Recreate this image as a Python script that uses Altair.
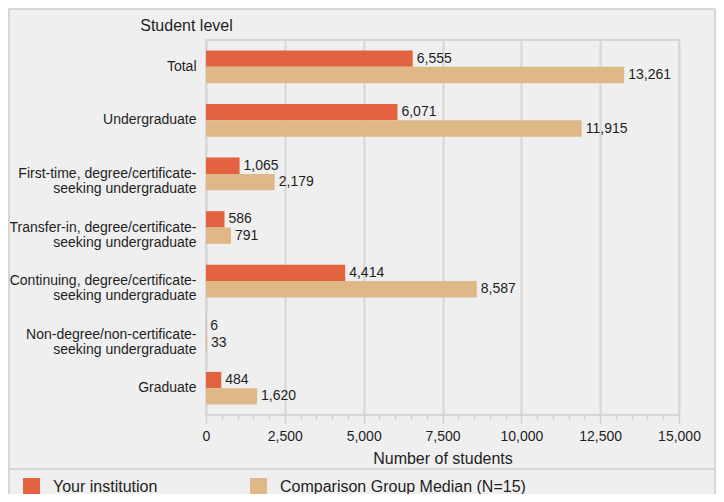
import altair as alt
import pandas as pd

categories = [
    "Total",
    "Undergraduate",
    "First-time, degree/certificate-|seeking undergraduate",
    "Transfer-in, degree/certificate-|seeking undergraduate",
    "Continuing, degree/certificate-|seeking undergraduate",
    "Non-degree/non-certificate-|seeking undergraduate",
    "Graduate",
]
series = ["Your institution", "Comparison Group Median (N=15)"]
your_institution = [6555, 6071, 1065, 586, 4414, 6, 484]
comparison_median = [13261, 11915, 2179, 791, 8587, 33, 1620]
colors = ["#e3623f", "#deb887"]
x_ticks = list(range(0, 15001, 500))

rows = []
for c, a, b in zip(categories, your_institution, comparison_median):
    rows.append({"level": c, "series": series[0], "value": a})
    rows.append({"level": c, "series": series[1], "value": b})
df = pd.DataFrame(rows)

FONT = "Liberation Sans"
TXT = "#1e1e1e"
GRID = "#d6d6d6"

y_enc = alt.Y(
    "level:N",
    sort=categories,
    scale=alt.Scale(paddingInner=0.39, paddingOuter=0.195),
    axis=alt.Axis(
        title="Student level",
        titleAngle=0,
        titleAlign="center",
        titleBaseline="middle",
        titleX=-20,
        titleY=-15,
        titleFontSize=16,
        titleFontWeight="normal",
        titleColor=TXT,
        labelExpr="split(datum.label, '|')",
        labelFontSize=14,
        labelLineHeight=15,
        labelPadding=10,
        labelLimit=0,
        labelColor=TXT,
        domain=False,
        ticks=False,
        grid=False,
    ),
)
yoff_enc = alt.YOffset("series:N", sort=series, scale=alt.Scale(paddingInner=0, paddingOuter=0))
x_enc = alt.X(
    "value:Q",
    scale=alt.Scale(domain=[0, 15000], nice=False),
    axis=alt.Axis(
        title="Number of students",
        values=x_ticks,
        labelExpr="datum.value % 2500 == 0 ? format(datum.value, ',') : ''",
        labelOverlap=False,
        labelFlush=False,
        labelFontSize=14,
        labelColor=TXT,
        labelPadding=6,
        titleFontSize=16,
        titleFontWeight="normal",
        titleColor=TXT,
        titlePadding=7,
        domain=False,
        grid=True,
        gridColor=GRID,
        gridWidth=2,
        gridOpacity={"condition": {"test": "datum.value % 2500 == 0", "value": 1}, "value": 0},
        tickColor="#cfcfcf",
        tickWidth=1.5,
        tickSize={"condition": {"test": "datum.value % 2500 == 0", "value": 8}, "value": 4},
    ),
)

base = alt.Chart(df).encode(y=y_enc, yOffset=yoff_enc, x=x_enc)

bars = base.mark_bar().encode(
    color=alt.Color(
        "series:N",
        sort=series,
        scale=alt.Scale(domain=series, range=colors),
        legend=alt.Legend(
            title=None,
            orient="none",
            legendX=-183,
            legendY=438,
            direction="horizontal",
            symbolType="square",
            symbolSize=289,
            symbolStrokeWidth=0,
            symbolOpacity=1,
            labelFontSize=16,
            labelColor=TXT,
            labelOffset=13,
            labelLimit=0,
            columnPadding=92,
            padding=0,
        ),
    ),
)

labels = base.mark_text(align="left", baseline="middle", dx=4, fontSize=14, color=TXT).encode(
    text=alt.Text("value:Q", format=","),
)

deco = alt.Chart(pd.DataFrame({"d": [0]}))
separator = deco.mark_rule(color=GRID, strokeWidth=2).encode(
    x=alt.value(-197), x2=alt.value(509), y=alt.value(429)
)
border_top = deco.mark_rule(color=GRID, strokeWidth=2).encode(
    x=alt.value(-197), x2=alt.value(509), y=alt.value(-31)
)
border_left = deco.mark_rule(color=GRID, strokeWidth=2).encode(
    x=alt.value(-197), y=alt.value(-31), y2=alt.value(454)
)
border_right = deco.mark_rule(color=GRID, strokeWidth=2).encode(
    x=alt.value(509), y=alt.value(-31), y2=alt.value(454)
)

chart = (
    alt.layer(bars, labels, separator, border_top, border_left, border_right)
    .properties(
        width=473,
        height=375,
        autosize=alt.AutoSizeParams(type="none"),
        padding={"left": 198, "top": 32, "right": 37, "bottom": 79},
        background="#efefef",
    )
    .configure(font=FONT)
    .configure_view(stroke=GRID, strokeWidth=2)
)

chart.save("out.html", embed_options={"renderer": "svg", "actions": False})
